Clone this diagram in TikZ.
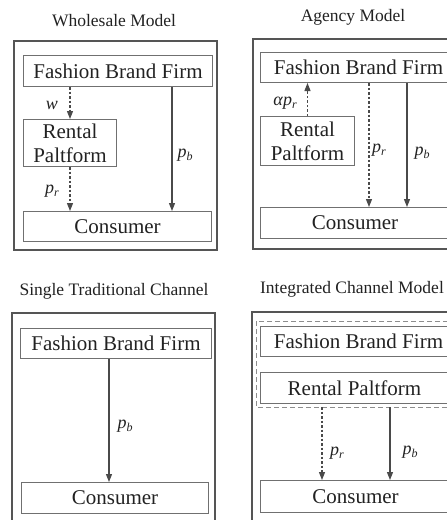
\documentclass[tikz,border=0pt]{standalone}
\usepackage{fontspec}
\setmainfont{Liberation Serif}
\usetikzlibrary{arrows.meta,calc}
\definecolor{frameC}{HTML}{555555}
\definecolor{boxC}{HTML}{707070}
\definecolor{arrC}{HTML}{4A4A4A}
\definecolor{txtC}{HTML}{222222}
% price labels: italic letter with a lowered italic index
\newcommand\plabel[2]{\textit{#1}\raisebox{-0.35ex}{\fontsize{12}{12}\selectfont\textit{#2}}}
\tikzset{
  frame/.style={draw=frameC, line width=1.4pt},
  agent/.style={draw=boxC, line width=1pt, anchor=north west, inner sep=0pt,
    text=txtC, align=center, font=\fontsize{21}{24}\selectfont},
  grp/.style={draw=boxC!80, line width=1pt, dash pattern=on 5pt off 3pt},
  title/.style={text=txtC, font=\fontsize{17.5}{20}\selectfont},
  flow/.style={draw=arrC, line width=1.2pt, -{Triangle[length=8pt,width=6pt]}},
  dflow/.style={flow, dash pattern=on 2.5pt off 2pt},
  price/.style={text=txtC, inner sep=0pt, font=\fontsize{18}{20}\selectfont},
}
\begin{document}
\begin{tikzpicture}[x=1pt,y=-1pt]
\useasboundingbox (0,0) rectangle (447,520);
\clip (0,0) rectangle (447,520);

% ---------- Wholesale model ----------
\node[title] (t1) at (114,21) {Wholesale Model};
\draw[frame] (14,41) rectangle (217,250);
\node[agent, minimum width=189pt, minimum height=31pt] (fbf1) at (23,55) {Fashion Brand Firm};
\node[agent, minimum width=93pt, minimum height=47pt] (rp1) at (23,119) {Rental\\Paltform};
\node[agent, minimum width=188pt, minimum height=30pt] (con1) at (23,211) {Consumer};
\draw[dflow] (fbf1.south -| rp1.north) -- (rp1.north);
\draw[dflow] (rp1.south) -- (rp1.south |- con1.north);
\draw[flow] ($(fbf1.south east)+(-41,0)$) coordinate (pb1s) -- (pb1s |- con1.north);
\node[price] (w1) at (52,105) {\textit{w}};
\node[price] (pr1) at (52,191) {\plabel{p}{r}};
\node[price] (pb1) at (185,155) {\plabel{p}{b}};

% ---------- Agency model ----------
\node[title] (t2) at (353,17) {Agency Model};
\draw[frame] (253,39) rectangle (462,249);
\node[agent, minimum width=196pt, minimum height=30pt] (fbf2) at (260,52) {Fashion Brand Firm};
\node[agent, minimum width=94pt, minimum height=49pt] (rp2) at (260,116) {Rental\\Paltform};
\node[agent, minimum width=189pt, minimum height=31pt] (con2) at (260,207) {Consumer};
\draw[dflow] (rp2.north) -- (rp2.north |- fbf2.south);
\draw[dflow] ($(fbf2.south west)+(109,0)$) coordinate (pr2s) -- (pr2s |- con2.north);
\draw[flow] ($(fbf2.south west)+(147,0)$) coordinate (pb2s) -- (pb2s |- con2.north);
\node[price] (apr2) at (285,103) {\textit{α}\plabel{p}{r}};
\node[price] (pr2) at (379,150) {\plabel{p}{r}};
\node[price] (pb2) at (422,153) {\plabel{p}{b}};

% ---------- Single traditional channel ----------
\node[title] (t3) at (114,291) {Single Traditional Channel};
\draw[frame] (12,313) rectangle (215,532);
\node[agent, minimum width=191pt, minimum height=30pt] (fbf3) at (20,328) {Fashion Brand Firm};
\node[agent, minimum width=187pt, minimum height=31pt] (con3) at (21,482) {Consumer};
\draw[flow] ($(fbf3.south)+(-7,0)$) coordinate (pb3s) -- (pb3s |- con3.north);
\node[price] (pb3) at (125,426) {\plabel{p}{b}};

% ---------- Integrated channel model ----------
\node[title] (t4) at (352,289) {Integrated Channel Model};
\draw[frame] (252,312) rectangle (462,532);
\node[agent, minimum width=196pt, minimum height=30pt] (fbf4) at (260,326) {Fashion Brand Firm};
\node[agent, minimum width=188pt, minimum height=31pt] (rp4) at (260,372) {Rental Paltform};
\draw[grp] (256,321) rectangle (458,407);
\coordinate (g4) at (256,407);
\node[agent, minimum width=190pt, minimum height=32pt] (con4) at (260,480) {Consumer};
\draw[dflow] ($(g4)+(66,0)$) coordinate (pr4s) -- (pr4s |- con4.north);
\draw[flow] ($(g4)+(134,0)$) coordinate (pb4s) -- (pb4s |- con4.north);
\node[price] (pr4) at (337,453) {\plabel{p}{r}};
\node[price] (pb4) at (410,452) {\plabel{p}{b}};
\end{tikzpicture}
\end{document}
